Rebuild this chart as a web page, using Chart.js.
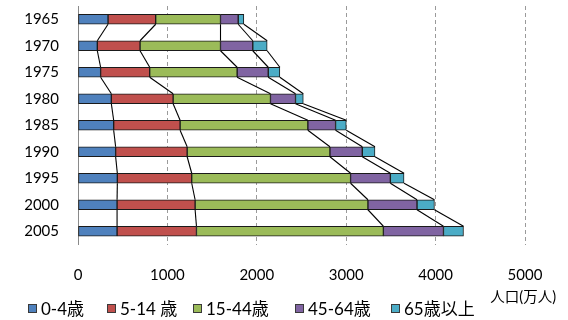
<!DOCTYPE html>
<html>
<head>
<meta charset="utf-8">
<script src="https://cdn.jsdelivr.net/npm/chart.js@4/dist/chart.umd.min.js"></script>
<style>
  html, body { margin: 0; padding: 0; background: #fff; }
  #wrap { width: 568px; height: 320px; }
</style>
</head>
<body>
<div id="wrap"><canvas id="c" width="568" height="320"></canvas></div>
<script>
// Population by age group (万人), one bar per census year
const years = ['1965', '1970', '1975', '1980', '1985', '1990', '1995', '2000', '2005'];
const age0to4   = [336, 216, 253, 373, 399, 421, 440, 437, 437];
const age5to14  = [533, 478, 549, 691, 743, 800, 832, 873, 888];
const age15to44 = [725, 900, 978, 1089, 1429, 1597, 1777, 1933, 2091];
const age45to64 = [198, 361, 348, 280, 310, 362, 445, 549, 672];
const age65plus = [63, 161, 130, 87, 120, 142, 153, 195, 224];
const seriesNames = ['0-4歳', '5-14 歳', '15-44歳', '45-64歳', '65歳以上'];
const xTickValues = [0, 1000, 2000, 3000, 4000, 5000];
const unitLabel = '人口(万人)';

const seriesValues = [age0to4, age5to14, age15to44, age45to64, age65plus];
const seriesColors = ['#4F81BD', '#C0504D', '#9BBB59', '#8064A2', '#4BACC6'];
const FONT = 'Lato, "Noto Sans CJK JP", sans-serif';

// Connect each segment boundary of one bar to the same boundary of the next bar
const seriesLines = {
  id: 'seriesLines',
  afterDatasetsDraw(chart) {
    const ctx = chart.ctx;
    ctx.save();
    ctx.strokeStyle = '#000';
    ctx.lineWidth = 1.1;
    chart.data.datasets.forEach((ds, k) => {
      const bars = chart.getDatasetMeta(k).data;
      for (let i = 0; i < bars.length - 1; i++) {
        const a = bars[i], b = bars[i + 1];
        ctx.beginPath();
        ctx.moveTo(a.x, a.y + a.height / 2);
        ctx.lineTo(b.x, b.y - b.height / 2);
        ctx.stroke();
      }
    });
    ctx.restore();
  }
};

// Legend row along the bottom and the unit caption under the value axis
const legendRow = {
  id: 'legendRow',
  afterDraw(chart) {
    const ctx = chart.ctx;
    ctx.save();
    const itemX = [28, 107, 193, 295, 391];
    const y = 309;
    ctx.font = '17px ' + FONT;
    ctx.textBaseline = 'middle';
    ctx.textAlign = 'left';
    chart.data.datasets.forEach((ds, k) => {
      const x = itemX[k];
      ctx.fillStyle = ds.backgroundColor;
      ctx.fillRect(x + 0.5, y - 4.5, 8, 8);
      ctx.strokeStyle = '#3a3a3a';
      ctx.lineWidth = 1;
      ctx.strokeRect(x + 0.5, y - 4.5, 8, 8);
      ctx.fillStyle = '#000';
      ctx.fillText(ds.label, x + 13, y + 1);
    });
    ctx.font = '14.5px ' + FONT;
    ctx.textAlign = 'right';
    ctx.fillText(unitLabel, 556, 297);
    ctx.restore();
  }
};

new Chart(document.getElementById('c'), {
  type: 'bar',
  data: {
    labels: years,
    datasets: seriesValues.map((vals, k) => ({
      label: seriesNames[k],
      data: vals,
      backgroundColor: seriesColors[k],
      borderColor: '#1a1a1a',
      borderWidth: 1,
      borderSkipped: false,
      barThickness: 10
    }))
  },
  options: {
    indexAxis: 'y',
    responsive: false,
    animation: false,
    layout: { padding: { top: 6, right: 43, bottom: 13.5, left: 0 } },
    plugins: { legend: { display: false }, tooltip: { enabled: false } },
    scales: {
      x: {
        stacked: true,
        min: 0,
        max: 5000,
        afterBuildTicks(scale) { scale.ticks = xTickValues.map(v => ({ value: v })); },
        border: { display: false, dash: [4, 3] },
        grid: {
          drawTicks: false,
          color: ctx => (ctx.tick && ctx.tick.value === 0) ? 'rgba(0,0,0,0)' : '#9a9a9a',
          lineWidth: 1
        },
        ticks: {
          color: '#000',
          font: { family: FONT, size: 15 },
          padding: 22,
          maxRotation: 0,
          callback: v => String(v)
        }
      },
      y: {
        stacked: true,
        afterFit(scale) {
          scale.width = 78;
          scale.paddingTop = 0;
          scale.paddingBottom = 0;
        },
        border: { display: true, color: '#8a8a8a', width: 1 },
        grid: { display: false, drawTicks: false },
        ticks: { color: '#000', font: { family: FONT, size: 15 }, padding: 19 }
      }
    }
  },
  plugins: [seriesLines, legendRow]
});
</script>
</body>
</html>
